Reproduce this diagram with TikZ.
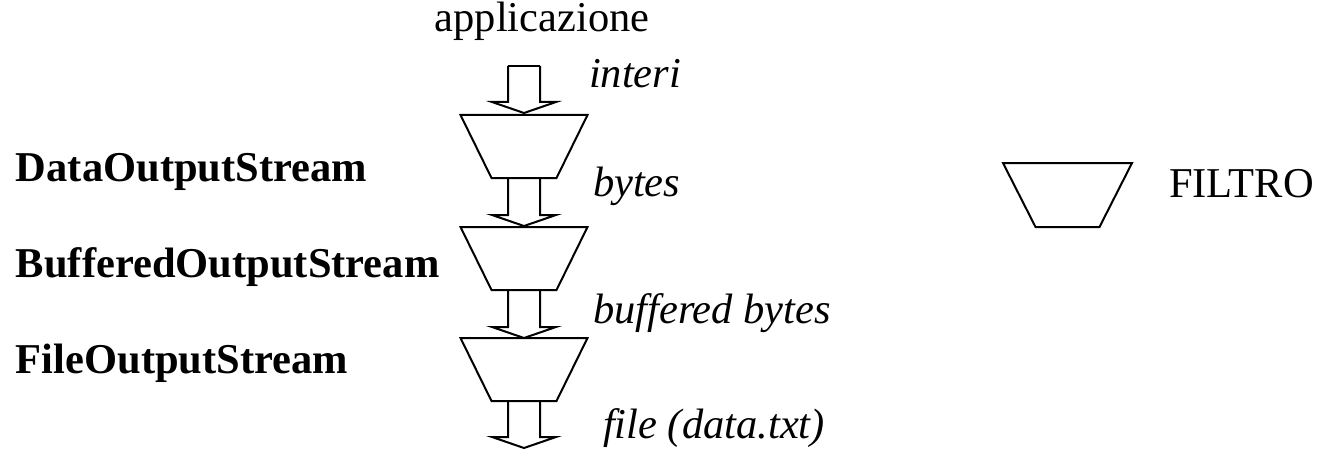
\documentclass[tikz,border=0pt]{standalone}
\usepackage{fontspec}
\setmainfont{Liberation Serif}
\begin{document}
\begin{tikzpicture}[x=0.5pt,y=-0.5pt, line width=1pt, line join=miter,
  lbl/.style={inner sep=0pt, anchor=base west, font=\fontsize{21.25}{25}\selectfont},
  flow/.style={lbl, font=\fontsize{21.25}{25}\selectfont\itshape},
  cls/.style={lbl, font=\fontsize{21.25}{25}\selectfont\bfseries}]
\useasboundingbox (0,0) rectangle (1317,449);
% filters (trapezoids)
\foreach \t/\n in {115/f1,227/f2,338/f3}{
  \coordinate (\n) at (524,\t);
  \draw (\n) ++(-63.5,0) -- ++(127,0) -- ++(-31,63) -- ++(-65,0) -- cycle;
}
% block arrows
\foreach \s/\e/\n in {66/113/a0,178/226/a1,290/338/a2,402/448/a3}{
  \coordinate (\n) at (524,\e);
  \draw (508,\s) -- (508,\e-11) -- (492,\e-11) -- (\n) -- (556,\e-11) -- (540,\e-11) -- (540,\s);
}
\draw (508,66) -- (540,66);
% legend filter
\coordinate (leg) at (1067.5,163);
\draw (leg) ++(-64.5,0) -- ++(129,0) -- ++(-32.5,64) -- ++(-64,0) -- cycle;
% labels
\node[lbl, anchor=base] (app) at (542,32) {applicazione};
\node[flow] (interi) at (588,88) {interi};
\node[flow] (bytes) at (592,197) {bytes};
\node[flow] (bbytes) at (592,323) {buffered bytes};
\node[flow] (file) at (602,438) {file (data.txt)};
\node[cls] (dos) at (15,182) {DataOutputStream};
\node[cls] (bos) at (15,277) {BufferedOutputStream};
\node[cls] (fos) at (15,373) {FileOutputStream};
\node[lbl] (filtro) at (1168,198) {FILTRO};
\end{tikzpicture}
\end{document}
